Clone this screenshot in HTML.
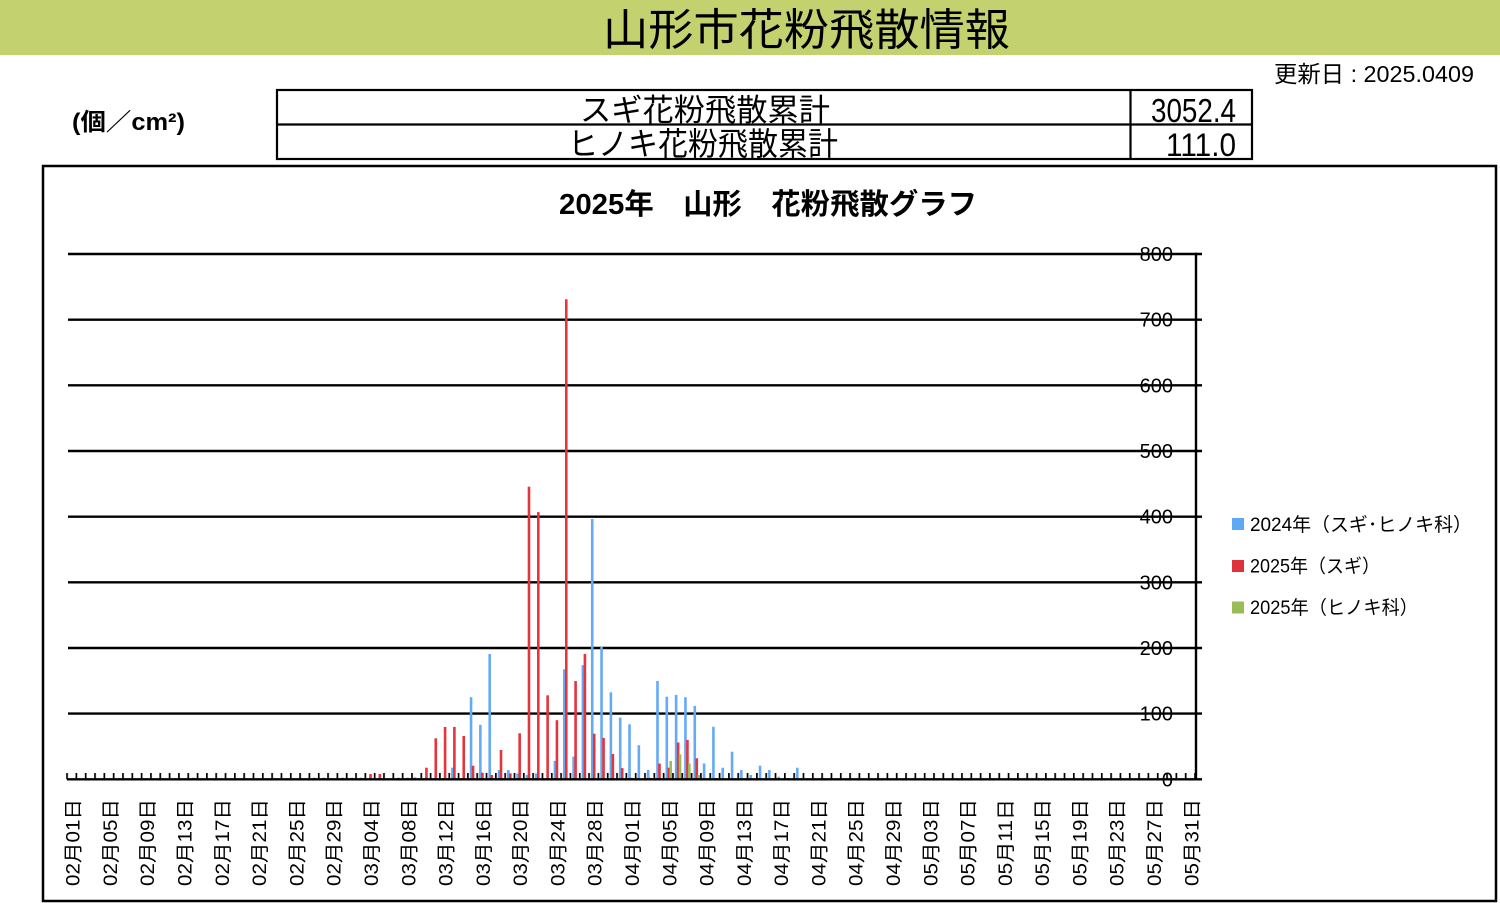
<!DOCTYPE html>
<html>
<head>
<meta charset="utf-8">
<style>
html,body{margin:0;padding:0;background:#fff;width:1500px;height:903px;overflow:hidden;}
svg{display:block;}
text{font-family:"Liberation Sans","Noto Sans CJK JP",sans-serif;fill:#000;}
</style>
</head>
<body>
<svg width="1500" height="903" viewBox="0 0 1500 903" xmlns="http://www.w3.org/2000/svg">
<defs>
<pattern id="tk" patternUnits="userSpaceOnUse" x="66.2" y="0" width="9.322" height="20">
<rect x="0" y="0" width="1.7" height="20" fill="#000"/>
</pattern>
</defs>

<!-- header -->
<rect x="0" y="0" width="1500" height="55" fill="#c3d26f"/>
<text x="603" y="45" font-size="44" textLength="407" lengthAdjust="spacingAndGlyphs" fill="#111">山形市花粉飛散情報</text>
<text x="1274" y="82" font-size="23" textLength="200" lengthAdjust="spacingAndGlyphs">更新日 : 2025.0409</text>

<!-- unit -->
<text x="72" y="130" font-size="24" font-weight="bold" textLength="113" lengthAdjust="spacingAndGlyphs">(個／cm²)</text>

<!-- table -->
<rect x="277" y="90" width="975" height="69" fill="none" stroke="#000" stroke-width="2.2"/>
<line x1="277" y1="124.5" x2="1252" y2="124.5" stroke="#000" stroke-width="2.2"/>
<line x1="1130.5" y1="90" x2="1130.5" y2="159" stroke="#000" stroke-width="2.2"/>
<text x="580" y="121" font-size="31" textLength="250" lengthAdjust="spacingAndGlyphs">スギ花粉飛散累計</text>
<text x="568" y="155" font-size="32" textLength="270" lengthAdjust="spacingAndGlyphs">ヒノキ花粉飛散累計</text>
<text x="1151" y="122" font-size="33" textLength="85" lengthAdjust="spacingAndGlyphs">3052.4</text>
<text x="1166" y="156" font-size="32" textLength="70" lengthAdjust="spacingAndGlyphs">111.0</text>

<!-- chart box -->
<rect x="43" y="166" width="1453" height="735" fill="none" stroke="#000" stroke-width="2.5"/>
<text x="559" y="214" font-size="29" font-weight="bold" textLength="418" lengthAdjust="spacingAndGlyphs">2025年　山形　花粉飛散グラフ</text>

<!-- gridlines -->
<g stroke="#000" stroke-width="2.4">
<line x1="68" y1="254.0" x2="1202" y2="254.0"/>
<line x1="68" y1="319.7" x2="1202" y2="319.7"/>
<line x1="68" y1="385.3" x2="1202" y2="385.3"/>
<line x1="68" y1="451.0" x2="1202" y2="451.0"/>
<line x1="68" y1="516.7" x2="1202" y2="516.7"/>
<line x1="68" y1="582.3" x2="1202" y2="582.3"/>
<line x1="68" y1="648.0" x2="1202" y2="648.0"/>
<line x1="68" y1="713.6" x2="1202" y2="713.6"/>
</g>

<!-- blue bars 2024 -->
<g fill="#64aaf7">
<rect x="413.8" y="777.3" width="2.6" height="2.0"/>
<rect x="451.1" y="767.7" width="2.6" height="11.6"/>
<rect x="469.75" y="697.2" width="2.6" height="82.1"/>
<rect x="479.07" y="724.8" width="2.6" height="54.5"/>
<rect x="488.39" y="654.0" width="2.6" height="125.3"/>
<rect x="497.71" y="770.1" width="2.6" height="9.2"/>
<rect x="507.03" y="770.1" width="2.6" height="9.2"/>
<rect x="516.36" y="773.4" width="2.6" height="5.9"/>
<rect x="525.68" y="775.0" width="2.6" height="4.3"/>
<rect x="535.0" y="773.4" width="2.6" height="5.9"/>
<rect x="553.64" y="760.9" width="2.6" height="18.4"/>
<rect x="562.97" y="669.3" width="2.6" height="110.0"/>
<rect x="572.29" y="756.6" width="2.6" height="22.7"/>
<rect x="581.61" y="665.1" width="2.6" height="114.2"/>
<rect x="590.93" y="519.0" width="2.6" height="260.3"/>
<rect x="600.25" y="647.0" width="2.6" height="132.3"/>
<rect x="609.58" y="692.3" width="2.6" height="87.0"/>
<rect x="618.9" y="717.6" width="2.6" height="61.7"/>
<rect x="628.22" y="724.3" width="2.6" height="55.0"/>
<rect x="637.54" y="745.2" width="2.6" height="34.1"/>
<rect x="646.86" y="770.1" width="2.6" height="9.2"/>
<rect x="656.19" y="681.0" width="2.6" height="98.3"/>
<rect x="665.51" y="696.7" width="2.6" height="82.6"/>
<rect x="674.83" y="694.9" width="2.6" height="84.4"/>
<rect x="684.15" y="697.2" width="2.6" height="82.1"/>
<rect x="693.47" y="706.0" width="2.6" height="73.3"/>
<rect x="702.8" y="763.5" width="2.6" height="15.8"/>
<rect x="712.12" y="726.8" width="2.6" height="52.5"/>
<rect x="721.44" y="767.7" width="2.6" height="11.6"/>
<rect x="730.76" y="751.7" width="2.6" height="27.6"/>
<rect x="740.08" y="770.1" width="2.6" height="9.2"/>
<rect x="749.41" y="775.0" width="2.6" height="4.3"/>
<rect x="758.73" y="765.7" width="2.6" height="13.6"/>
<rect x="768.05" y="770.1" width="2.6" height="9.2"/>
<rect x="777.37" y="776.7" width="2.6" height="2.6"/>
<rect x="786.69" y="778.0" width="2.6" height="1.3"/>
<rect x="796.02" y="767.7" width="2.6" height="11.6"/>
</g>

<!-- red bars 2025 sugi -->
<g fill="#e4353c">
<rect x="192.1" y="777.8" width="2.6" height="1.5"/>
<rect x="313.27" y="777.8" width="2.6" height="1.5"/>
<rect x="322.59" y="777.8" width="2.6" height="1.5"/>
<rect x="341.24" y="777.8" width="2.6" height="1.5"/>
<rect x="350.56" y="777.8" width="2.6" height="1.5"/>
<rect x="359.88" y="777.8" width="2.6" height="1.5"/>
<rect x="369.2" y="774.0" width="2.6" height="5.3"/>
<rect x="378.53" y="774.0" width="2.6" height="5.3"/>
<rect x="397.17" y="777.8" width="2.6" height="1.5"/>
<rect x="406.49" y="777.8" width="2.6" height="1.5"/>
<rect x="425.14" y="767.7" width="2.6" height="11.6"/>
<rect x="434.46" y="738.3" width="2.6" height="41.0"/>
<rect x="443.78" y="727.0" width="2.6" height="52.3"/>
<rect x="453.1" y="727.0" width="2.6" height="52.3"/>
<rect x="462.42" y="736.0" width="2.6" height="43.3"/>
<rect x="471.75" y="765.7" width="2.6" height="13.6"/>
<rect x="481.07" y="772.7" width="2.6" height="6.6"/>
<rect x="490.39" y="775.0" width="2.6" height="4.3"/>
<rect x="499.71" y="750.0" width="2.6" height="29.3"/>
<rect x="509.03" y="773.4" width="2.6" height="5.9"/>
<rect x="518.36" y="733.3" width="2.6" height="46.0"/>
<rect x="527.68" y="486.7" width="2.6" height="292.6"/>
<rect x="537.0" y="512.1" width="2.6" height="267.2"/>
<rect x="546.32" y="695.3" width="2.6" height="84.0"/>
<rect x="555.64" y="720.2" width="2.6" height="59.1"/>
<rect x="564.97" y="299.3" width="2.6" height="480.0"/>
<rect x="574.29" y="681.0" width="2.6" height="98.3"/>
<rect x="583.61" y="653.9" width="2.6" height="125.4"/>
<rect x="592.93" y="733.7" width="2.6" height="45.6"/>
<rect x="602.25" y="737.9" width="2.6" height="41.4"/>
<rect x="611.58" y="754.0" width="2.6" height="25.3"/>
<rect x="620.9" y="768.1" width="2.6" height="11.2"/>
<rect x="630.22" y="777.8" width="2.6" height="1.5"/>
<rect x="648.86" y="777.8" width="2.6" height="1.5"/>
<rect x="658.19" y="763.5" width="2.6" height="15.8"/>
<rect x="667.51" y="767.7" width="2.6" height="11.6"/>
<rect x="676.83" y="742.5" width="2.6" height="36.8"/>
<rect x="686.15" y="739.9" width="2.6" height="39.4"/>
<rect x="695.47" y="758.3" width="2.6" height="21.0"/>
</g>

<!-- green bars 2025 hinoki -->
<g fill="#9bbb59">
<rect x="669.41" y="760.9" width="2.6" height="18.4"/>
<rect x="678.73" y="754.3" width="2.6" height="25.0"/>
<rect x="688.05" y="763.5" width="2.6" height="15.8"/>
<rect x="697.37" y="775.0" width="2.6" height="4.3"/>
</g>

<!-- category ticks -->
<rect x="66" y="773" width="1131" height="6.3" fill="url(#tk)"/>

<!-- axes -->
<line x1="67" y1="779.3" x2="1202" y2="779.3" stroke="#000" stroke-width="2.4"/>
<line x1="1196" y1="252.8" x2="1196" y2="780.5" stroke="#000" stroke-width="2.4"/>

<!-- y labels -->
<g font-size="20" text-anchor="end">
<text x="1173" y="261">800</text>
<text x="1173" y="326.7">700</text>
<text x="1173" y="392.3">600</text>
<text x="1173" y="458">500</text>
<text x="1173" y="523.7">400</text>
<text x="1173" y="589.3">300</text>
<text x="1173" y="655">200</text>
<text x="1173" y="720.6">100</text>
<text x="1173" y="786.3">0</text>
</g>

<!-- x labels -->
<g font-size="19" text-anchor="end">
<text transform="translate(79.7,799) rotate(-90)" textLength="87" lengthAdjust="spacingAndGlyphs">02月01日</text>
<text transform="translate(117.0,799) rotate(-90)" textLength="87" lengthAdjust="spacingAndGlyphs">02月05日</text>
<text transform="translate(154.2,799) rotate(-90)" textLength="87" lengthAdjust="spacingAndGlyphs">02月09日</text>
<text transform="translate(191.5,799) rotate(-90)" textLength="87" lengthAdjust="spacingAndGlyphs">02月13日</text>
<text transform="translate(228.8,799) rotate(-90)" textLength="87" lengthAdjust="spacingAndGlyphs">02月17日</text>
<text transform="translate(266.1,799) rotate(-90)" textLength="87" lengthAdjust="spacingAndGlyphs">02月21日</text>
<text transform="translate(303.4,799) rotate(-90)" textLength="87" lengthAdjust="spacingAndGlyphs">02月25日</text>
<text transform="translate(340.7,799) rotate(-90)" textLength="87" lengthAdjust="spacingAndGlyphs">02月29日</text>
<text transform="translate(378.0,799) rotate(-90)" textLength="87" lengthAdjust="spacingAndGlyphs">03月04日</text>
<text transform="translate(415.3,799) rotate(-90)" textLength="87" lengthAdjust="spacingAndGlyphs">03月08日</text>
<text transform="translate(452.5,799) rotate(-90)" textLength="87" lengthAdjust="spacingAndGlyphs">03月12日</text>
<text transform="translate(489.8,799) rotate(-90)" textLength="87" lengthAdjust="spacingAndGlyphs">03月16日</text>
<text transform="translate(527.1,799) rotate(-90)" textLength="87" lengthAdjust="spacingAndGlyphs">03月20日</text>
<text transform="translate(564.4,799) rotate(-90)" textLength="87" lengthAdjust="spacingAndGlyphs">03月24日</text>
<text transform="translate(601.7,799) rotate(-90)" textLength="87" lengthAdjust="spacingAndGlyphs">03月28日</text>
<text transform="translate(639.0,799) rotate(-90)" textLength="87" lengthAdjust="spacingAndGlyphs">04月01日</text>
<text transform="translate(676.3,799) rotate(-90)" textLength="87" lengthAdjust="spacingAndGlyphs">04月05日</text>
<text transform="translate(713.6,799) rotate(-90)" textLength="87" lengthAdjust="spacingAndGlyphs">04月09日</text>
<text transform="translate(750.8,799) rotate(-90)" textLength="87" lengthAdjust="spacingAndGlyphs">04月13日</text>
<text transform="translate(788.1,799) rotate(-90)" textLength="87" lengthAdjust="spacingAndGlyphs">04月17日</text>
<text transform="translate(825.4,799) rotate(-90)" textLength="87" lengthAdjust="spacingAndGlyphs">04月21日</text>
<text transform="translate(862.7,799) rotate(-90)" textLength="87" lengthAdjust="spacingAndGlyphs">04月25日</text>
<text transform="translate(900.0,799) rotate(-90)" textLength="87" lengthAdjust="spacingAndGlyphs">04月29日</text>
<text transform="translate(937.3,799) rotate(-90)" textLength="87" lengthAdjust="spacingAndGlyphs">05月03日</text>
<text transform="translate(974.6,799) rotate(-90)" textLength="87" lengthAdjust="spacingAndGlyphs">05月07日</text>
<text transform="translate(1011.9,799) rotate(-90)" textLength="87" lengthAdjust="spacingAndGlyphs">05月11日</text>
<text transform="translate(1049.2,799) rotate(-90)" textLength="87" lengthAdjust="spacingAndGlyphs">05月15日</text>
<text transform="translate(1086.4,799) rotate(-90)" textLength="87" lengthAdjust="spacingAndGlyphs">05月19日</text>
<text transform="translate(1123.7,799) rotate(-90)" textLength="87" lengthAdjust="spacingAndGlyphs">05月23日</text>
<text transform="translate(1161.0,799) rotate(-90)" textLength="87" lengthAdjust="spacingAndGlyphs">05月27日</text>
<text transform="translate(1198.3,799) rotate(-90)" textLength="87" lengthAdjust="spacingAndGlyphs">05月31日</text>
</g>

<!-- legend -->
<rect x="1232" y="518" width="12" height="12" fill="#5fa8f5"/>
<rect x="1232" y="560" width="12" height="12" fill="#e0303a"/>
<rect x="1232" y="601.5" width="12" height="12" fill="#9bbb59"/>
<g font-size="19">
<text x="1250" y="531" textLength="222" lengthAdjust="spacingAndGlyphs">2024年（スギ･ヒノキ科）</text>
<text x="1250" y="572.5" textLength="130" lengthAdjust="spacingAndGlyphs">2025年（スギ）</text>
<text x="1250" y="614" textLength="168" lengthAdjust="spacingAndGlyphs">2025年（ヒノキ科）</text>
</g>
</svg>
</body>
</html>
